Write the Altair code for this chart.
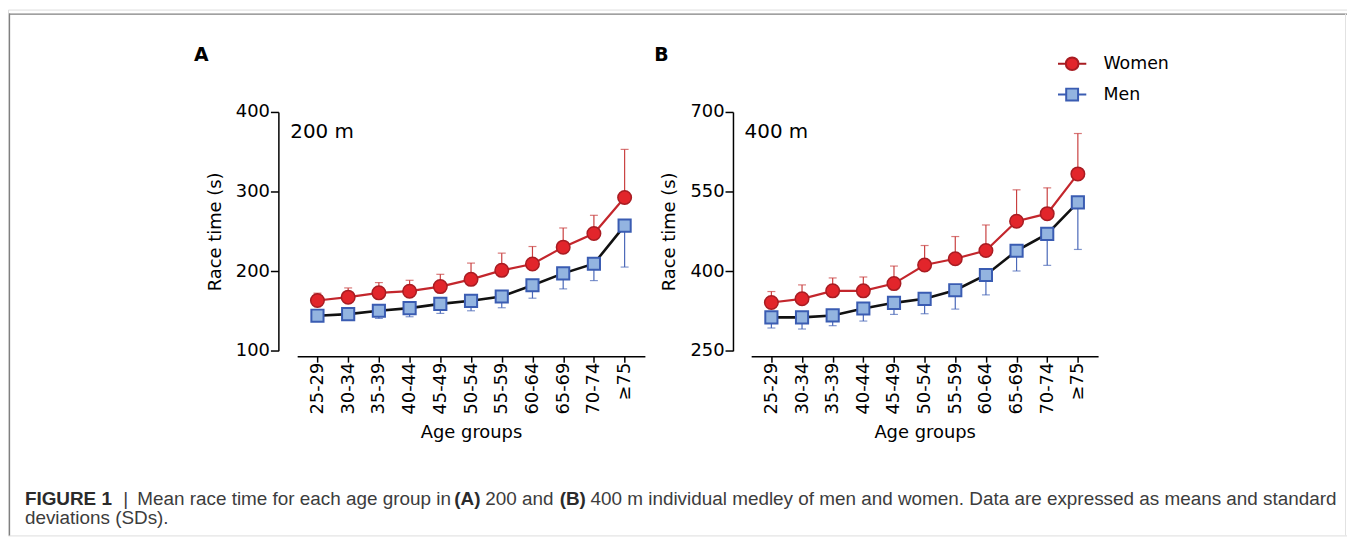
import altair as alt
import pandas as pd

# ---------------- data ----------------
ages = ["25-29", "30-34", "35-39", "40-44", "45-49", "50-54",
        "55-59", "60-64", "65-69", "70-74", "≥75"]
series = ["Women", "Men"]

women_200_mean = [163.2, 167.4, 172.8, 174.9, 180.7, 189.8, 201.1, 209.0, 230.2, 247.3, 292.6]
women_200_sd = [9.2, 11.6, 12.9, 13.7, 15.4, 20.4, 21.6, 22.0, 24.1, 22.9, 60.4]
men_200_mean = [144.1, 146.1, 150.3, 153.6, 159.0, 162.8, 168.2, 182.4, 197.3, 209.4, 257.3]
men_200_sd = [4.0, 6.6, 9.6, 10.8, 12.0, 12.5, 14.1, 16.3, 19.5, 21.2, 52.1]

women_400_mean = [341.1, 348.0, 363.0, 363.0, 376.7, 411.6, 423.5, 439.1, 494.0, 508.4, 583.3]
women_400_sd = [20.6, 26.2, 24.3, 26.1, 33.0, 36.8, 41.8, 48.0, 59.3, 48.6, 76.1]
men_400_mean = [313.0, 313.0, 316.7, 329.8, 340.4, 348.0, 364.2, 392.9, 438.5, 470.3, 529.6]
men_400_sd = [20.0, 21.9, 19.3, 23.7, 21.8, 28.1, 35.6, 37.5, 38.1, 59.3, 88.6]

y_ticks_200 = [100, 200, 300, 400]
y_ticks_400 = [250, 400, 550, 700]

caption_1 = ["FIGURE 1", "|", "Mean race time for each age group in", "(A)", "200 and", "(B)",
             "400 m individual medley of men and women. Data are expressed as means and standard"]
caption_2 = "deviations (SDs)."

# ---------------- styles ----------------
FONT = "DejaVu Sans"
CAP_FONT = "Liberation Sans"
W_LINE = "#c3262c"
W_FILL = "#e2252b"
W_STROKE = "#a81c22"
W_ERR = "#c94040"
M_LINE = "#111111"
M_FILL = "#93b4e0"
M_STROKE = "#3a5cb2"
M_ERR = "#4a68b8"

W, H = 1347, 529


def panel(w_mean, w_sd, m_mean, m_sd, y_dom, y_ticks, x_rng, y_off, x_off):
    df = pd.DataFrame({
        "age": ages,
        "w": w_mean,
        "w_hi": [a + b for a, b in zip(w_mean, w_sd)],
        "m": m_mean,
        "m_lo": [a - b for a, b in zip(m_mean, m_sd)],
    })
    xs = alt.Scale(type="point", domain=ages, range=x_rng, padding=0.66)
    ys = alt.Scale(domain=y_dom, range=[343.3, 103], nice=False, zero=False)
    xa = alt.Axis(orient="bottom", offset=x_off, labelAngle=270, grid=False,
                  domainColor="black", domainWidth=1.5, tickColor="black", tickWidth=1.5,
                  tickSize=6, labelPadding=0, labelFont=FONT, labelFontSize=18,
                  labelColor="black", labelOverlap=False, title="Age groups",
                  titleFont=FONT, titleFontSize=18, titleFontWeight="normal",
                  titleColor="black", titlePadding=9)
    ya = alt.Axis(orient="left", offset=y_off, values=y_ticks, grid=False,
                  domainColor="black", domainWidth=1.5, tickColor="black", tickWidth=1.5,
                  tickSize=8, labelPadding=1, labelFont=FONT, labelFontSize=18,
                  labelColor="black", labelOverlap=False, title="Race time (s)",
                  titleFont=FONT, titleFontSize=18, titleFontWeight="normal",
                  titleColor="black", titlePadding=11)
    X = alt.X("age:O", scale=xs, axis=xa)

    def Y(f):
        return alt.Y(f"{f}:Q", scale=ys, axis=ya)

    base = alt.Chart(df)
    w_bar = base.mark_rule(color=W_ERR, strokeWidth=1.2).encode(x=X, y=Y("w"), y2="w_hi")
    w_cap = base.mark_tick(color=W_ERR, size=8, thickness=1.2).encode(x=X, y=Y("w_hi"))
    m_bar = base.mark_rule(color=M_ERR, strokeWidth=1.2).encode(x=X, y=Y("m_lo"), y2="m")
    m_cap = base.mark_tick(color=M_ERR, size=8, thickness=1.2).encode(x=X, y=Y("m_lo"))
    m_line = base.mark_line(color=M_LINE, strokeWidth=2.6).encode(x=X, y=Y("m"))
    w_line = base.mark_line(color=W_LINE, strokeWidth=2.2).encode(x=X, y=Y("w"))
    m_pts = base.mark_point(shape="square", filled=True, fill=M_FILL, stroke=M_STROKE,
                            strokeWidth=2, size=150, opacity=1).encode(x=X, y=Y("m"))
    w_pts = base.mark_point(shape="circle", filled=True, fill=W_FILL, stroke=W_STROKE,
                            strokeWidth=1.5, size=185, opacity=1).encode(x=X, y=Y("w"))
    return alt.layer(w_bar, w_cap, m_bar, m_cap, m_line, w_line, m_pts, w_pts)


panel_a = panel(women_200_mean, women_200_sd, men_200_mean, men_200_sd,
                [100, 400], y_ticks_200, [290.9, 640.7], -272, -180.3)
panel_b = panel(women_400_mean, women_400_sd, men_400_mean, men_400_sd,
                [250, 700], y_ticks_400, [747.6, 1096.6], -729.3, -180.3)

# ---------------- legend (real legend, custom symbols) ----------------
circ_path = ("M-1,0H-0.45M0.45,0H1M0.45,0A0.45,0.45,0,1,1,-0.45,0"
             "A0.45,0.45,0,1,1,0.45,0Z")
sq_path = "M-1,0H-0.42M0.42,0H1M-0.42,-0.42H0.42V0.42H-0.42Z"
leg = alt.Legend(orient="none", legendX=1055, legendY=39, title=None,
                 labelFont=FONT, labelFontSize=17.5, labelColor="black",
                 symbolSize=810, symbolStrokeWidth=2, symbolOpacity=1,
                 labelOffset=16, rowPadding=5, padding=0)
legend_layer = alt.Chart(pd.DataFrame({"series": series})).mark_point(
    filled=True, opacity=0, strokeWidth=2).encode(
    shape=alt.Shape("series:N", scale=alt.Scale(domain=series, range=[circ_path, sq_path]), legend=leg),
    fill=alt.Fill("series:N", scale=alt.Scale(domain=series, range=[W_FILL, M_FILL]), legend=leg),
    stroke=alt.Stroke("series:N", scale=alt.Scale(domain=series, range=[W_STROKE, M_STROKE]), legend=leg),
)

# ---------------- annotations ----------------
one = pd.DataFrame({"k": [0]})


def txt(s, x, y, size, font=FONT, weight="normal", color="black"):
    return alt.Chart(one).mark_text(text=s, align="left", baseline="alphabetic",
                                    font=font, fontSize=size, fontWeight=weight,
                                    color=color).encode(x=alt.value(x), y=alt.value(y))


annots = [
    txt("A", 187, 51.5, 19, weight="bold"),
    txt("B", 650, 51.5, 19, weight="bold"),
    txt("200 m", 284, 129, 20),
    txt("400 m", 741, 129, 20),
]
cap_x = [17, 116, 130, 449, 480, 555, 586]
cap_bold = [True, False, False, True, False, True, False]
for s, x, b in zip(caption_1, cap_x, cap_bold):
    annots.append(txt(s, x, 498, 19, font=CAP_FONT, weight="bold" if b else "normal",
                      color="#2b2b2b" if b else "#3c3c3c"))
annots.append(txt(caption_2, 17, 517, 19, font=CAP_FONT, color="#3c3c3c"))

frame = [
    alt.Chart(one).mark_rule(color="#808080", strokeWidth=1.3).encode(
        x=alt.value(1), x2=alt.value(W), y=alt.value(4.5)),
    alt.Chart(one).mark_rule(color="#808080", strokeWidth=1.3).encode(
        x=alt.value(1.5), y=alt.value(4), y2=alt.value(H)),
    alt.Chart(one).mark_rule(color="#e2e2e2", strokeWidth=1).encode(
        x=alt.value(1345.5), y=alt.value(4), y2=alt.value(H)),
]

chart = alt.layer(*frame, panel_a, panel_b, legend_layer, *annots).resolve_scale(
    x="independent", y="independent"
).properties(
    width=W, height=H, padding=0, autosize=alt.AutoSizeParams(type="none")
).configure_view(strokeWidth=0).configure(background="white")

chart.save("out.html", embed_options={"renderer": "svg", "actions": False})
